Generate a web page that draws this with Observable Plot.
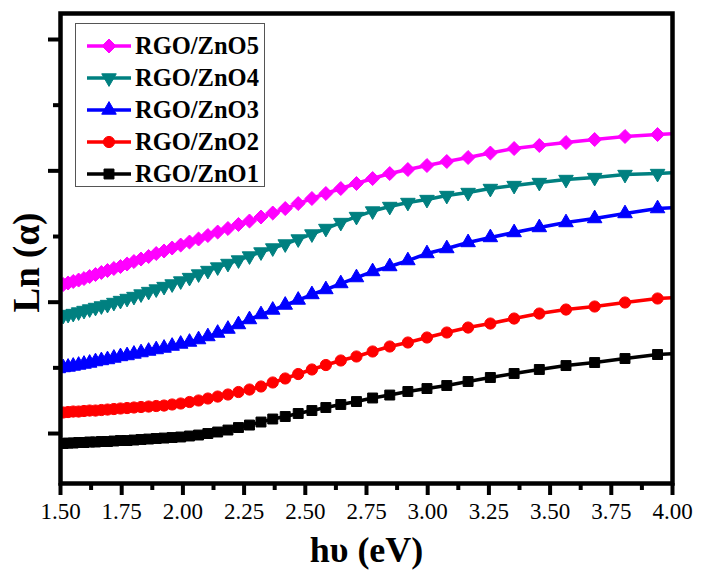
<!DOCTYPE html>
<html><head><meta charset="utf-8">
<script src="https://cdn.jsdelivr.net/npm/d3@7"></script>
<script src="https://cdn.jsdelivr.net/npm/@observablehq/plot@0.6"></script>
<style>
html,body{margin:0;padding:0;background:#fff;}
#wrap{position:relative;width:701px;height:573px;overflow:hidden;}
#legend{position:absolute;left:75px;top:23px;width:190px;height:164px;border:1.3px solid #555;box-sizing:border-box;background:#fff;font-family:"Liberation Serif","Times New Roman",serif;font-weight:bold;font-size:24.5px;color:#000;}
.row{position:absolute;left:0;height:32px;display:flex;align-items:center;white-space:nowrap;}
.row svg{display:block;}
</style></head><body><div id="wrap"><div id="legend"></div></div>
<script>
// photon energy (eV), shared by all series
const hv = [4.082, 3.939, 3.806, 3.682, 3.565, 3.456, 3.353, 3.256, 3.165, 3.078, 2.997, 2.919, 2.845, 2.775, 2.709, 2.645, 2.584, 2.527, 2.471, 2.418, 2.367, 2.319, 2.272, 2.227, 2.184, 2.142, 2.102, 2.064, 2.027, 1.991, 1.956, 1.923, 1.891, 1.860, 1.829, 1.800, 1.772, 1.745, 1.718, 1.692, 1.667, 1.643, 1.619, 1.596, 1.574, 1.552, 1.531, 1.511, 1.491];

const zno5 = [4.584, 4.553, 4.523, 4.477, 4.431, 4.386, 4.340, 4.271, 4.203, 4.142, 4.081, 4.020, 3.959, 3.883, 3.807, 3.731, 3.655, 3.579, 3.502, 3.426, 3.358, 3.297, 3.236, 3.183, 3.122, 3.068, 3.015, 2.962, 2.916, 2.870, 2.825, 2.779, 2.741, 2.695, 2.657, 2.619, 2.581, 2.543, 2.513, 2.482, 2.452, 2.421, 2.391, 2.360, 2.337, 2.315, 2.292, 2.269, 2.246];
const zno4 = [3.990, 3.959, 3.944, 3.898, 3.868, 3.822, 3.776, 3.731, 3.670, 3.624, 3.563, 3.518, 3.457, 3.388, 3.304, 3.213, 3.122, 3.038, 2.962, 2.886, 2.825, 2.764, 2.703, 2.642, 2.589, 2.535, 2.482, 2.429, 2.375, 2.322, 2.277, 2.238, 2.200, 2.162, 2.124, 2.086, 2.056, 2.025, 1.995, 1.964, 1.942, 1.919, 1.896, 1.873, 1.850, 1.827, 1.812, 1.797, 1.782];
const zno3 = [3.457, 3.426, 3.350, 3.274, 3.213, 3.137, 3.061, 2.985, 2.909, 2.817, 2.741, 2.634, 2.543, 2.467, 2.375, 2.284, 2.193, 2.117, 2.033, 1.957, 1.881, 1.812, 1.736, 1.660, 1.591, 1.530, 1.477, 1.431, 1.393, 1.363, 1.332, 1.302, 1.279, 1.256, 1.233, 1.211, 1.188, 1.173, 1.150, 1.127, 1.112, 1.096, 1.074, 1.058, 1.043, 1.028, 1.013, 1.005, 0.990];
const zno2 = [2.086, 2.056, 1.995, 1.934, 1.888, 1.827, 1.751, 1.675, 1.614, 1.538, 1.462, 1.386, 1.325, 1.249, 1.173, 1.112, 1.043, 0.975, 0.906, 0.838, 0.777, 0.716, 0.670, 0.632, 0.594, 0.563, 0.533, 0.503, 0.480, 0.457, 0.442, 0.426, 0.419, 0.411, 0.404, 0.396, 0.388, 0.381, 0.373, 0.365, 0.358, 0.350, 0.350, 0.343, 0.335, 0.335, 0.327, 0.320, 0.320];
const zno1 = [1.233, 1.203, 1.142, 1.081, 1.035, 0.975, 0.914, 0.853, 0.792, 0.731, 0.685, 0.640, 0.586, 0.541, 0.487, 0.442, 0.396, 0.350, 0.305, 0.259, 0.221, 0.175, 0.129, 0.091, 0.053, 0.023, 0.000, -0.023, -0.038, -0.053, -0.061, -0.069, -0.076, -0.084, -0.091, -0.099, -0.107, -0.107, -0.114, -0.122, -0.122, -0.129, -0.129, -0.137, -0.137, -0.145, -0.145, -0.152, -0.152];

const seriesNames = ["RGO/ZnO5", "RGO/ZnO4", "RGO/ZnO3", "RGO/ZnO2", "RGO/ZnO1"];
const seriesValues = [zno5, zno4, zno3, zno2, zno1];

const xMajorTicks = [1.50, 1.75, 2.00, 2.25, 2.50, 2.75, 3.00, 3.25, 3.50, 3.75, 4.00];
const xMinorTicks = [1.625, 1.875, 2.125, 2.375, 2.625, 2.875, 3.125, 3.375, 3.625, 3.875];
const yMajorTicks = [0, 2, 4, 6];
const yMinorTicks = [1, 3, 5];
const xLabel = "hυ (eV)";
const yLabel = "Ln (α)";

// styles
const styles = {
  "RGO/ZnO5": {color: "#FF00FF", symbol: "diamond2", r: 6.3, rotate: 0},
  "RGO/ZnO4": {color: "#008080", symbol: "triangle", r: 5.4, rotate: 180},
  "RGO/ZnO3": {color: "#0000FF", symbol: "triangle", r: 5.4, rotate: 0},
  "RGO/ZnO2": {color: "#FF0000", symbol: "circle", r: 5.6, rotate: 0},
  "RGO/ZnO1": {color: "#000000", symbol: "square", r: 5.6, rotate: 0}
};
const d3Sym = {diamond2: d3.symbolDiamond2, triangle: d3.symbolTriangle, circle: d3.symbolCircle, square: d3.symbolSquare};

const tables = seriesNames.map((name, i) => hv.map((x, j) => ({hv: x, v: seriesValues[i][j], series: name})));

const marks = [];
for (let i = seriesNames.length - 1; i >= 0; i--) {
  const s = styles[seriesNames[i]];
  marks.push(Plot.line(tables[i], {x: "hv", y: "v", stroke: s.color, strokeWidth: 3.5, clip: true}));
  marks.push(Plot.dot(tables[i], {x: "hv", y: "v", symbol: s.symbol, r: s.r, rotate: s.rotate, fill: s.color, stroke: s.color, strokeWidth: 1, clip: true}));
}
marks.push(
  Plot.frame({stroke: "black", strokeWidth: 4.5}),
  Plot.axisX({ticks: xMajorTicks, tickSize: 12, tickPadding: 7, tickFormat: d3.format(".2f"), fontSize: 23, strokeWidth: 4, label: null}),
  Plot.axisX({ticks: xMinorTicks, tickSize: 7, tickFormat: () => "", strokeWidth: 4, label: null}),
  Plot.axisY({ticks: yMajorTicks, tickSize: 12, tickFormat: () => "", strokeWidth: 4, label: null}),
  Plot.axisY({ticks: yMinorTicks, tickSize: 7, tickFormat: () => "", strokeWidth: 4, label: null}),
  Plot.text([xLabel], {frameAnchor: "bottom", lineAnchor: "bottom", dy: 78, text: d => d, fontSize: 36, fontWeight: "bold", fill: "black"}),
  Plot.text([yLabel], {frameAnchor: "left", textAnchor: "middle", lineAnchor: "middle", dx: -33, dy: 14, rotate: -90, text: d => d, fontSize: 37, fontWeight: "bold", fill: "black"})
);

const chart = Plot.plot({
  width: 701, height: 573,
  marginLeft: 60, marginRight: 29, marginTop: 13, marginBottom: 90,
  x: {domain: [1.5, 4.0], label: null},
  y: {domain: [-0.761, 6.396], label: null},
  style: {fontFamily: "'Liberation Serif', 'Times New Roman', serif", color: "black", background: "white", overflow: "visible"},
  marks
});
document.getElementById("wrap").prepend(chart);

// legend
const legend = document.getElementById("legend");
seriesNames.forEach((name, i) => {
  const s = styles[name];
  const row = document.createElement("div");
  row.className = "row";
  row.style.top = (6 + i * 32) + "px";
  const svg = d3.create("svg").attr("width", 59).attr("height", 32);
  svg.append("line").attr("x1", 11).attr("x2", 55).attr("y1", 16).attr("y2", 16).attr("stroke", s.color).attr("stroke-width", 3.5);
  svg.append("path").attr("d", d3.symbol(d3Sym[s.symbol], Math.PI * s.r * s.r)())
    .attr("transform", `translate(33,16) rotate(${s.rotate})`).attr("fill", s.color).attr("stroke", s.color);
  row.appendChild(svg.node());
  const span = document.createElement("span");
  span.textContent = name;
  row.appendChild(span);
  legend.appendChild(row);
});
</script></body></html>
